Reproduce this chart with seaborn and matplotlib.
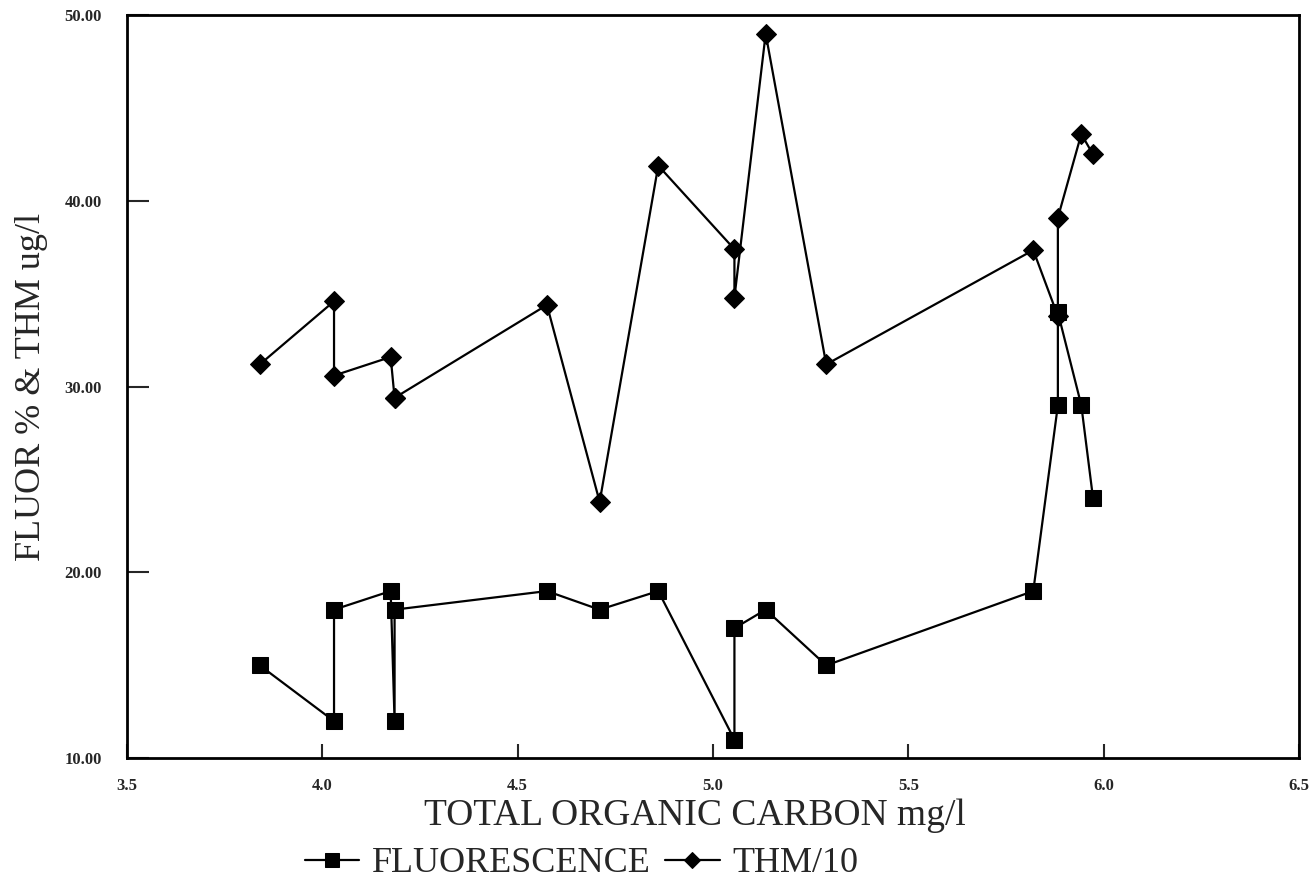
import matplotlib
matplotlib.use("Agg")
import matplotlib.pyplot as plt
import seaborn as sns
import pandas as pd

# Data (drawing order)
toc = [3.84, 4.03, 4.03, 4.175, 4.185, 4.185, 4.575, 4.71, 4.86, 5.055, 5.055,
       5.135, 5.29, 5.82, 5.883, 5.883, 5.943, 5.973]
fluorescence = [15, 12, 18, 19, 12, 18, 19, 18, 19, 11, 17, 18, 15, 19, 29, 34, 29, 24]
thm_toc = [3.84, 4.03, 4.03, 4.175, 4.185, 4.185, 4.575, 4.71, 4.86, 5.055, 5.055,
           5.135, 5.29, 5.82, 5.883, 5.883, 5.943, 5.973]
thm_div10 = [31.2, 34.6, 30.6, 31.6, 29.4, 29.4, 34.4, 23.8, 41.9, 37.4, 34.8,
             49.0, 31.2, 37.35, 33.8, 39.1, 43.6, 42.5]
x_ticks = [3.5, 4.0, 4.5, 5.0, 5.5, 6.0, 6.5]
y_ticks = [10, 20, 30, 40, 50]
series_names = ["FLUORESCENCE", "THM/10"]

df_f = pd.DataFrame({"toc": toc, "val": fluorescence})
df_t = pd.DataFrame({"toc": thm_toc, "val": thm_div10})

sns.set_theme(style="white")
plt.rcParams["font.family"] = ["Liberation Serif", "DejaVu Serif"]

fig = plt.figure(figsize=(13.16, 8.90), dpi=100)
ax = fig.add_axes([0.0965, 0.148, 0.8905, 0.835])

sns.lineplot(data=df_f, x="toc", y="val", sort=False, estimator=None,
             color="black", lw=1.6, marker="s", markersize=12,
             markeredgecolor="black", markerfacecolor="black", ax=ax)
sns.lineplot(data=df_t, x="toc", y="val", sort=False, estimator=None,
             color="black", lw=1.6, marker="D", markersize=10,
             markeredgecolor="black", markerfacecolor="black", ax=ax)

ax.set_xlim(3.5, 6.5)
ax.set_ylim(10, 50)
ax.set_xticks(x_ticks)
ax.set_xticklabels([f"{v:.1f}" for v in x_ticks], fontsize=12, fontweight="bold")
ax.set_yticks(y_ticks)
ax.set_yticklabels([f"{v:.2f}" for v in y_ticks], fontsize=12, fontweight="bold")
ax.tick_params(axis="x", direction="in", length=10, width=1.5, pad=14, bottom=True)
ax.tick_params(axis="y", direction="in", length=16, width=1.5, pad=18, left=True)

for s in ax.spines.values():
    s.set_color("black")
    s.set_linewidth(2)

ax.set_xlabel("TOTAL ORGANIC CARBON mg/l", fontsize=27)
ax.xaxis.set_label_coords(0.485, -0.054, transform=ax.transAxes)
ax.xaxis.label.set_va("top")
ax.set_ylabel("FLUOR % & THM ug/l", fontsize=26, labelpad=12)

lines = ax.get_lines()
ax.legend(lines[:2], series_names, loc="center", bbox_to_anchor=(0.388, -0.142),
          ncol=2, frameon=False, fontsize=26, handlelength=1.5, handletextpad=0.35,
          columnspacing=0.4, markerscale=0.85, borderpad=0.1)

fig.savefig("out.png", dpi=100)
